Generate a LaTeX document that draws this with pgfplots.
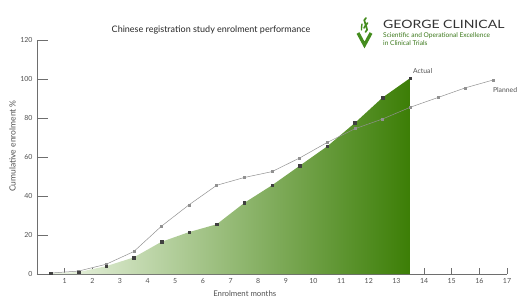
\documentclass[border=0pt]{standalone}
\usepackage{pgfplots}
\pgfplotsset{compat=1.18}
\usepackage{fontspec}
\setmainfont{Lato}
\definecolor{axgray}{RGB}{110,110,110}
\definecolor{txtgray}{RGB}{80,80,80}
\definecolor{dgreen}{RGB}{60,126,6}
\definecolor{mgreen}{RGB}{122,178,84}
\definecolor{lgreen}{RGB}{238,246,230}
\definecolor{logogreen}{RGB}{68,140,30}
\definecolor{plangray}{RGB}{145,145,145}
\pgfplotstableread{
x y
0.5 0.5
1.5 1
2.5 4
3.5 8.5
4.5 16.5
5.5 21.5
6.5 25.5
7.5 36.5
8.5 45.5
9.5 55.5
10.5 65.5
11.5 77.5
12.5 90.5
13.5 100.5
}\actual
\pgfplotstableread{
x y
0.5 0.5
1.5 1.5
2.5 5
3.5 11.5
4.5 24.5
5.5 35.5
6.5 45.5
7.5 49.5
8.5 52.5
9.5 59.5
10.5 67.5
11.5 74.5
12.5 79.5
13.5 85.5
14.5 90.5
15.5 95.5
16.5 99.5
}\planned
\begin{document}
\begin{tikzpicture}[x=1pt,y=1pt]
\useasboundingbox (0,0) rectangle (527,301);
\begin{axis}[
  at={(37pt,27pt)}, anchor=south west,
  scale only axis, width=470pt, height=234pt,
  xmin=0, xmax=17, ymin=0, ymax=120,
  axis lines=left,
  axis line style={-, axgray, line width=0.6pt},
  xtick={1,...,17}, ytick={0,20,...,120},
  tick align=inside,
  major tick length=11pt,
  ytick style={axgray, line width=0.6pt},
  xtick style={axgray, line width=0.6pt, /pgfplots/major tick length=6pt},
  /pgf/number format/assume math mode=true,
  tick label style={font=\fontsize{7}{8}\selectfont, txtgray},
  yticklabel style={xshift=-1pt},
  xticklabel style={yshift=-1pt},
  xlabel={Enrolment months},
  ylabel={Cumulative enrolment \%},
  label style={font=\fontsize{8.5}{9}\selectfont, txtgray},
  xlabel style={at={(axis description cs:0.442,-0.085)}, anchor=center, font=\fontsize{7.8}{9}\selectfont},
  ylabel style={at={(axis description cs:-0.052,0.547)}, anchor=center, rotate=0},
  clip=false,
]
\addplot[draw=none, left color=lgreen, middle color=mgreen, right color=dgreen] table[x=x,y=y] {\actual} \closedcycle;
\addplot[plangray, line width=0.5pt, mark=square*, mark size=1.0pt, mark options={fill=plangray, draw=plangray}] table[x=x,y=y] {\planned};
\addplot[only marks, mark=square*, mark size=1.3pt, mark options={fill=black!75, draw=black!75}] table[x=x,y=y] {\actual};
\node[font=\fontsize{6.8}{7}\selectfont, txtgray] at (axis cs:13.95,104.3) {Actual};
\node[font=\fontsize{6.8}{7}\selectfont, txtgray] at (axis cs:16.93,94.2) {Planned};
\end{axis}
% title
\node[font=\fontsize{9}{10}\selectfont, black!85] at (211,271) {Chinese registration study enrolment performance};
% logo
\draw[logogreen, line width=3.2pt, line join=miter] (358,268) -- (364.5,256) -- (371,268);
\draw[logogreen, line width=1.7pt, line cap=round] (366,283) .. controls (361,280) and (369,277) .. (364,273);
\draw[logogreen, line width=1.7pt, line cap=round] (367.5,278) .. controls (363,275) and (370,272) .. (365.5,269);
\draw[logogreen, line width=1.4pt, line cap=round] (362,277) .. controls (360,275) and (363,273) .. (361.5,271);
\node[anchor=west, font=\fontsize{11.5}{12}\selectfont, black!80, inner sep=0pt] at (383,277) {\scalebox{1.22}[1]{GEORGE CLINICAL}};
\node[anchor=west, font=\fontsize{6.6}{7}\selectfont, logogreen!85!black, inner sep=0pt] at (383,265) {Scientific and Operational Excellence};
\node[anchor=west, font=\fontsize{6.6}{7}\selectfont, logogreen!85!black, inner sep=0pt] at (383,257.5) {in Clinical Trials};
\end{tikzpicture}
\end{document}
